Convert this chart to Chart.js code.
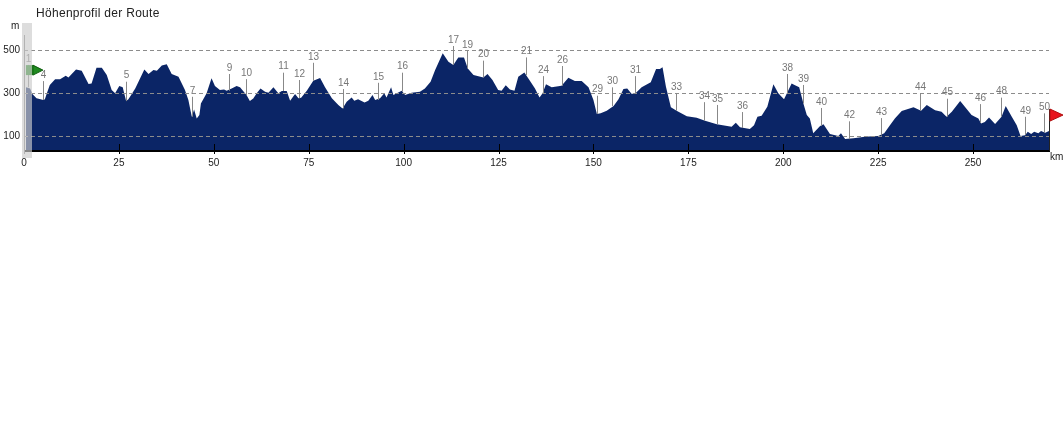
<!DOCTYPE html>
<html>
<head>
<meta charset="utf-8">
<title>Höhenprofil der Route</title>
<script src="https://cdn.jsdelivr.net/npm/chart.js@4/dist/chart.umd.min.js"></script>
<style>
    html, body { margin: 0; padding: 0; background: #fff; }
    #wrap { width: 1063px; height: 432px; }
</style>
</head>
<body>
<div id="wrap"><canvas id="profile" width="1063" height="432"></canvas></div>
<script>
const chartTitle = 'Höhenprofil der Route';

// Route distance (km) and elevation (m)
const distanceKm = [0.5, 1.6, 2.2, 3.3, 5.1, 5.5, 6, 6.8, 8.2, 9.5, 11, 11.7, 13.7, 15.2, 17, 17.8, 19.1, 20.5, 21.8, 23.1, 24, 25.1, 26, 26.9, 27.5, 29.3, 31.7, 32.8, 34.1, 35, 36.3, 37.6, 38.9, 40.7, 42.4, 43.3, 44.2, 44.8, 45.5, 46.2, 46.6, 48.1, 49.4, 50.3, 51.6, 52.7, 53.4, 54.7, 56, 56.9, 58.6, 59.5, 60.4, 61.3, 62.3, 63.5,
    64.4, 65.7, 67, 67.9, 69.2, 70.1, 71.4, 72.3, 73, 74.5, 76.2, 78, 79.3, 81.1, 82.8, 83.9, 85, 86.3, 87, 88, 89.7, 90.7, 91.8, 92.5, 93.8, 94.9, 95.5, 96.7, 97.3, 99.5, 100.4, 102.1, 104.3, 105.6, 107.1, 108.3, 110.3, 111.8, 113.1, 114.4, 115.9, 116.9, 118.4, 121, 122.1, 123.4, 124.9, 125.8, 126.9, 128, 129.2, 130.2, 131.8, 133.3,
    134.6, 135.8, 136.6, 137.5, 139, 141.6, 143.4, 145.1, 146.9, 148.7, 150, 150.9, 151.9, 153.5, 155.3, 156.6, 157.9, 158.9, 160.1, 161.2, 162.7, 165.1, 166.5, 167.5, 168.2, 169.1, 170.4, 171.9, 174.6, 177.2, 179.4, 182.5, 186.4, 187.5, 188.6, 191.2, 192.3, 193.2, 194.3, 195.8, 197.4, 198.7, 200.2, 202.2, 203.1,
    204.2, 205.3, 206.2, 207, 207.9, 209.7, 210.6, 212.3, 214.5, 215.2, 216.3, 218.5, 221.5, 225, 226.6, 228.1, 229.4, 231.2, 234.3, 236.3, 237.8, 240, 241.7, 243, 244.4, 246.6, 249.6, 251.4, 252.1, 253.1, 254.2, 255.8, 257.5, 258.6, 260.2, 261.5, 262.5, 263.7, 264.4, 265.3, 266.1, 267.2, 267.9, 269, 270.2];
const elevationM = [329, 324, 298, 278, 270, 273, 300, 340, 366, 366, 383, 375, 412, 406, 344, 347, 420, 420, 386, 316, 301, 335, 329, 265, 273, 324, 412, 391, 409, 406, 430, 436, 391, 378, 316, 270, 192, 226, 184, 200, 254, 301, 371, 335, 316, 319, 313, 324, 335, 329, 293, 265, 277, 301, 324, 309,
    304, 329, 301, 312, 312, 267, 298, 278, 281, 313, 360, 372, 329, 278, 247, 231, 262, 282, 267, 274, 259, 267, 293, 270, 278, 301, 282, 329, 293, 313, 293, 304, 308, 324, 355, 409, 487, 448, 433, 468, 468, 417, 386, 375, 391, 363, 316, 313, 339, 319, 313, 378, 398, 358,
    324, 282, 301, 343, 329, 336, 374, 358, 358, 329, 270, 205, 208, 220, 242, 273, 321, 324, 298, 304, 329, 352, 414, 414, 422, 332, 236, 220, 195, 188, 174, 157, 146, 164, 143, 135, 153, 192, 197, 239, 343, 301, 273, 347, 339,
    329, 254, 200, 184, 115, 149, 157, 112, 103, 115, 89, 92, 99, 103, 115, 153, 184, 219, 236, 220, 247, 223, 216, 192, 216, 265, 200, 184, 161, 168, 189, 158, 192, 242, 192, 153, 103, 106, 123, 112, 123, 115, 126, 118, 128];

// Waypoint markers: label, position, where the stem ends at the top and at the profile
const waypointLabels = ['1', '4', '5', '7', '9', '10', '11', '12', '13', '14', '15', '16', '17', '19', '20', '21', '24', '26', '29', '30', '31', '33', '34', '35', '36', '38', '39', '40', '42', '43', '44', '45', '46', '48', '49', '50'];
const waypointKm = [1, 5.1, 26.8, 44.2, 53.9, 58.6, 68.1, 72.5, 76, 83.9, 93.2, 99.7, 113.1, 116.8, 121, 132.3, 136.6, 141.6, 151, 155, 161, 171.8, 179.2, 182.6, 189, 201.1, 205.3, 210, 217.4, 225.8, 236.1, 243, 251.9, 257.4, 263.8, 268.8];
const waypointTopM = [433, 358, 355, 285, 391, 367, 397, 363, 443, 321, 350, 397, 521, 499, 453, 468, 381, 428, 290, 329, 381, 301, 260, 247, 214, 391, 340, 233, 171, 186, 301, 276, 251, 281, 192, 208];
const waypointBaseM = [329, 270, 265, 192, 313, 293, 312, 278, 360, 231, 270, 309, 433, 417, 375, 386, 298, 336, 205, 242, 301, 220, 174, 157, 140, 301, 254, 149, 88, 105, 220, 192, 164, 192, 107, 119];

// Axis ticks and range
const xTicks = [0, 25, 50, 75, 100, 125, 150, 175, 200, 225, 250];
const yTicks = [100, 300, 500];
const xMaxKm = 270;
const yMinM = 33;
const yMaxM = 628;

// Start and finish flags
const startFlag = { km: 0.5, m: 409 };
const finishFlag = { km: 270, m: 228 };

const NAVY = '#0b2566';
const FONT = '"Liberation Sans", Arial, sans-serif';

const profileDecor = {
    id: 'profileDecor',
    afterDraw(chart) {
        const { ctx, scales: { x, y }, chartArea } = chart;
        ctx.save();

        // title and units
        ctx.fillStyle = '#222';
        ctx.textBaseline = 'middle';
        ctx.textAlign = 'left';
        ctx.font = '12px ' + FONT;
        ctx.letterSpacing = '0.3px';
        ctx.fillText(chartTitle, 36, 14);
        ctx.letterSpacing = '0px';
        ctx.font = '10px ' + FONT;
        ctx.fillText('m', 11, 26);
        ctx.fillText('km', 1050, 157);

        // tick numbers
        ctx.textAlign = 'right';
        yTicks.forEach(m => ctx.fillText(String(m), 20, y.getPixelForValue(m)));
        ctx.textAlign = 'center';
        xTicks.forEach(km => ctx.fillText(String(km), x.getPixelForValue(km), chartArea.bottom + 12));

        // black axis with ticks crossing it
        ctx.strokeStyle = '#000';
        ctx.lineWidth = 1;
        ctx.beginPath();
        xTicks.slice(1).forEach(km => {
            const px = Math.round(x.getPixelForValue(km)) + 0.5;
            ctx.moveTo(px, chartArea.bottom - 7);
            ctx.lineTo(px, chartArea.bottom + 3);
        });
        ctx.stroke();
        ctx.lineWidth = 2;
        ctx.beginPath();
        ctx.moveTo(chartArea.left, chartArea.bottom);
        ctx.lineTo(x.getPixelForValue(finishFlag.km) + 1, chartArea.bottom);
        ctx.stroke();

        // waypoint stems and numbers
        ctx.textAlign = 'center';
        ctx.textBaseline = 'bottom';
        ctx.lineWidth = 1;
        waypointLabels.forEach((label, i) => {
            const px = Math.round(x.getPixelForValue(waypointKm[i])) + 0.5;
            const top = y.getPixelForValue(waypointTopM[i]);
            ctx.strokeStyle = '#888';
            ctx.beginPath();
            ctx.moveTo(px, top);
            ctx.lineTo(px, y.getPixelForValue(waypointBaseM[i]));
            ctx.stroke();
            ctx.fillStyle = '#777';
            ctx.fillText(label, px, top - 1);
        });

        // y axis hairline at km 0
        const x0 = x.getPixelForValue(0) + 0.5;
        ctx.strokeStyle = '#808080';
        ctx.beginPath();
        ctx.moveTo(x0, 35);
        ctx.lineTo(x0, chartArea.bottom + 3);
        ctx.stroke();

        // start flag: block on the pole, pennant to the right
        const sx = x.getPixelForValue(startFlag.km);
        const sy = y.getPixelForValue(startFlag.m);
        ctx.fillStyle = '#1f8a1f';
        ctx.strokeStyle = '#0e5c0e';
        ctx.fillRect(sx, sy - 5, 7, 10);
        ctx.beginPath();
        ctx.moveTo(sx + 7, sy - 5);
        ctx.lineTo(sx + 17, sy);
        ctx.lineTo(sx + 7, sy + 5);
        ctx.closePath();
        ctx.fill();
        ctx.stroke();

        // finish flag hanging from the top of its pole
        const fx = x.getPixelForValue(finishFlag.km);
        const fy = y.getPixelForValue(finishFlag.m);
        ctx.strokeStyle = '#222';
        ctx.beginPath();
        ctx.moveTo(fx + 0.5, fy);
        ctx.lineTo(fx + 0.5, chartArea.bottom);
        ctx.stroke();
        ctx.fillStyle = '#e8141c';
        ctx.strokeStyle = '#b01010';
        ctx.beginPath();
        ctx.moveTo(fx + 1, fy);
        ctx.lineTo(fx + 14, fy + 6);
        ctx.lineTo(fx + 1, fy + 12);
        ctx.closePath();
        ctx.fill();
        ctx.stroke();

        // translucent start band over everything at the left edge
        ctx.fillStyle = 'rgba(203,203,203,0.66)';
        ctx.fillRect(22, 23, 10, 135);

        ctx.restore();
    }
};

new Chart(document.getElementById('profile').getContext('2d'), {
    type: 'line',
    data: {
        datasets: [{
            data: distanceKm.map((km, i) => ({ x: km, y: elevationM[i] })),
            borderWidth: 0,
            pointRadius: 0,
            tension: 0,
            fill: 'start',
            backgroundColor: NAVY
        }]
    },
    options: {
        responsive: false,
        animation: false,
        layout: { padding: { left: 24, right: 14, top: 23, bottom: 281 } },
        plugins: { legend: { display: false }, title: { display: false }, tooltip: { enabled: false } },
        scales: {
            x: {
                type: 'linear',
                min: 0,
                max: xMaxKm,
                afterFit(scale) { scale.height = 0; },
                afterBuildTicks(scale) { scale.ticks = xTicks.map(value => ({ value })); },
                border: { display: false },
                grid: { display: false },
                ticks: { display: false }
            },
            y: {
                type: 'linear',
                min: yMinM,
                max: yMaxM,
                afterFit(scale) { scale.width = 0; },
                afterBuildTicks(scale) { scale.ticks = yTicks.map(value => ({ value })); },
                border: { display: false, dash: [4, 3] },
                grid: { color: '#8c8c8c', z: 1, drawTicks: false, lineWidth: 1 },
                ticks: { display: false }
            }
        }
    },
    plugins: [profileDecor]
});
</script>
</body>
</html>
